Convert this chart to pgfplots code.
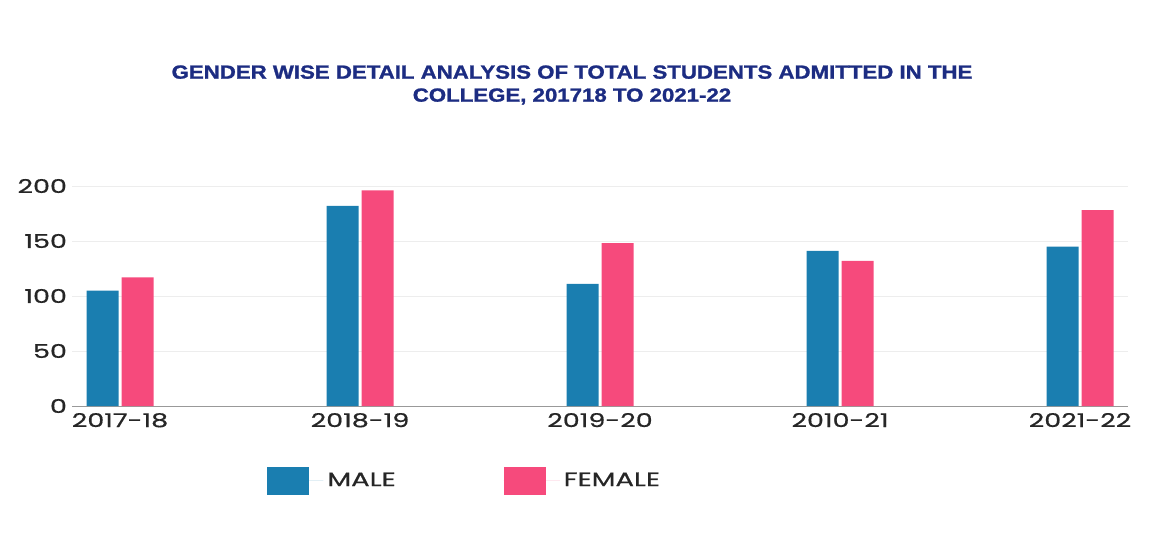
\documentclass[border=0pt]{standalone}
\usepackage{fontspec}
\setmainfont{Poppins}
\newfontfamily\medfont{Poppins}[FakeBold=0.6]
\newfontfamily\titlefont{Liberation Sans}[BoldFeatures={FakeBold=1.2}]
\usepackage{pgfplots}
\pgfplotsset{compat=1.18}
\definecolor{maleblue}{HTML}{1A7EB0}
\definecolor{femalepink}{HTML}{F64A7C}
\definecolor{titleblue}{HTML}{1C2C82}
\newcommand{\wide}[1]{\scalebox{1.42}[1]{#1}}

\begin{document}
\begin{tikzpicture}[x=1pt,y=1pt]
\path[use as bounding box] (0,0) rectangle (574.5,270.5);
\begin{axis}[
  at={(36pt,67.5pt)}, anchor=south west,
  scale only axis, width=528pt, height=110pt,
  ybar=1.5pt, bar width=16pt,
  xmin=-0.2, xmax=4.2, ymin=0, ymax=200,
  enlargelimits=false, clip=false,
  axis x line=bottom, axis y line=left,
  x axis line style={black!40, -},
  y axis line style={draw=none},
  major tick length=0,
  xtick=data,
  xticklabels={\wide{2017-18}, \wide{2018-19}, \wide{2019-20}, \wide{2010-21}, \wide{2021-22}},
  ytick={0,50,100,150,200},
  yticklabels={\wide{0}, \wide{50}, \wide{100}, \wide{150}, \wide{200}},
  ymajorgrids, grid style={black!7},
  ticklabel style={font=\medfont\fontsize{9.5}{10}\selectfont, text=black!85},
  yticklabel style={xshift=1pt},
  legend style={at={(0.179,-0.34)}, anchor=west, draw=none, fill=none,
    legend columns=2, font=\medfont\fontsize{9.7}{10}\selectfont, text=black!85,
    /tikz/every even column/.append style={column sep=52pt}},
  legend image code/.code={\fill[#1] (0pt,-7pt) rectangle (21pt,7pt); \path (0pt,0pt) -- (28pt,0pt);},
]
\addplot[draw=none, fill=maleblue] coordinates {(0,105) (1,182) (2,111) (3,141) (4,145)};
\addplot[draw=none, fill=femalepink] coordinates {(0,117) (1,196) (2,148) (3,132) (4,178)};
\legend{\wide{MALE}, \wide{FEMALE}}
\end{axis}
\node[align=center, text=titleblue, font=\titlefont\bfseries\fontsize{9.5}{11.5}\selectfont] at (286,228)
  {\scalebox{1.17}[1]{GENDER WISE DETAIL ANALYSIS OF TOTAL STUDENTS ADMITTED IN THE}\\
   \scalebox{1.17}[1]{COLLEGE, 201718 TO 2021-22}};
\end{tikzpicture}
\end{document}
